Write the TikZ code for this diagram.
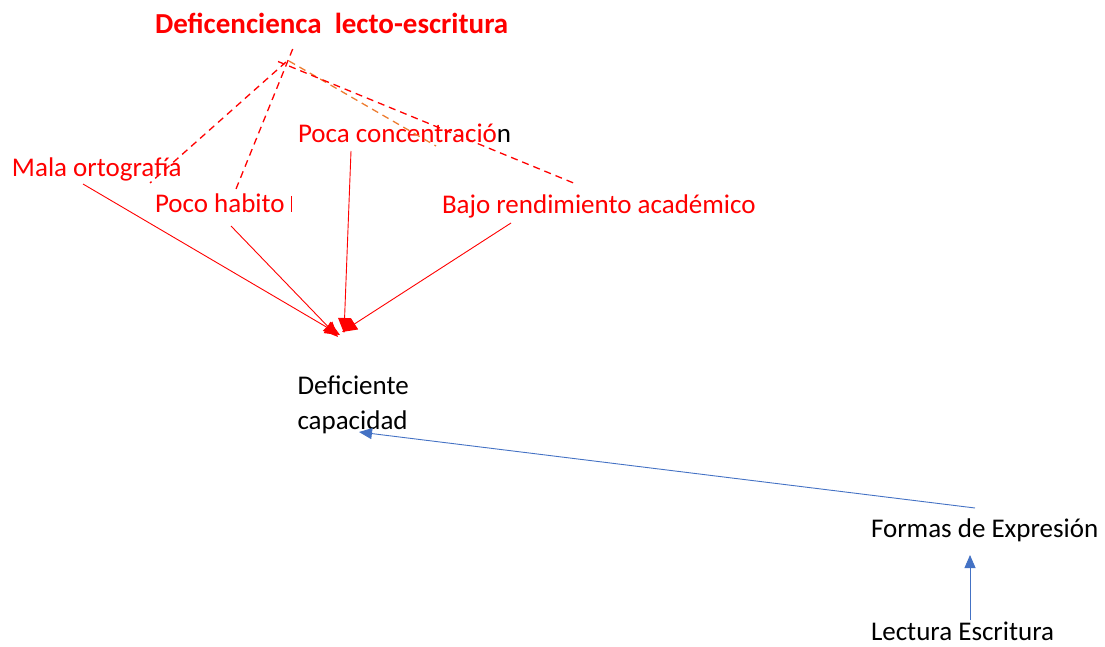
\documentclass[tikz,border=0pt]{standalone}
\usepackage{fontspec}
\setmainfont{Carlito}
\usetikzlibrary{arrows.meta}
\definecolor{wred}{HTML}{FF0000}
\definecolor{wblue}{HTML}{4472C4}
\definecolor{worange}{HTML}{ED7D31}
\tikzset{
  lbl/.style={anchor=base west,inner sep=0pt,outer sep=0pt,font=\fontsize{27}{33}\selectfont},
  redlbl/.style={lbl,text=wred},
  dash red/.style={draw=wred,line width=1.3pt,dash pattern=on 7pt off 5pt},
  dash orange/.style={draw=worange,line width=1.3pt,dash pattern=on 7pt off 5pt},
  redarrow/.style={draw=wred,line width=0.9pt,-{Triangle[length=15pt,width=13pt]}},
  bluearrow/.style={draw=wblue,line width=0.9pt,-{Triangle[length=13pt,width=11pt]}}
}
\begin{document}
\begin{tikzpicture}[x=1pt,y=-1pt]
\useasboundingbox (0,0) rectangle (1105,647);
% text
\node[redlbl,font=\fontsize{29}{33}\selectfont\bfseries] (title) at (155,33.5) {Deficencienca\ \ lecto-escritura};
\node[redlbl] (mala) at (12,177) {Mala ortografía};
\node[redlbl] (poco) at (155,212.5) {Poco habito};
\node[redlbl] (poca) at (298,143) {Poca concentració\textcolor{black}{n}};
\node[redlbl] (bajo) at (442,213.5) {Bajo rendimiento académico};
\node[lbl] (def1) at (297.5,394.5) {Deficiente};
\node[lbl] (def2) at (297.5,429) {capacidad};
\node[lbl] (formas) at (871,537) {Formas de Expresión};
\node[lbl] (lect) at (871,640) {Lectura Escritura};
% small bar after Poco habito
\coordinate (barT) at (291.5,196);
\coordinate (barB) at (291.5,212);
\draw[wred,line width=0.8pt] (barT) -- (barB);
% dashed lines
\coordinate (a1) at (292.7,49);
\coordinate (a1e) at (236,189);
\coordinate (a2) at (286,62);
\coordinate (a2e) at (150,183);
\coordinate (a3) at (278,61.5);
\coordinate (a3e) at (576,184);
\coordinate (a4) at (289,61);
\coordinate (a4e) at (436,146);
\draw[dash red] (a1) -- (a1e);
\draw[dash red] (a2) -- (a2e);
\draw[dash orange] (a4) -- (a4e);
\draw[dash red] (a3) -- (a3e);
% solid red arrows
\coordinate (m1) at (83,184);
\coordinate (p1) at (231,226);
\coordinate (c1) at (351,151);
\coordinate (b1) at (511,223);
\coordinate (t1) at (340,335);
\coordinate (t2) at (338,337);
\coordinate (t3) at (344,333);
\coordinate (t4) at (342,332);
\draw[redarrow] (m1) -- (t1);
\draw[redarrow] (p1) -- (t2);
\draw[redarrow] (c1) -- (t3);
\draw[redarrow] (b1) -- (t4);
% blue arrows
\coordinate (f1) at (975,508);
\coordinate (dtip) at (359,432);
\draw[bluearrow] (f1) -- (dtip);
\coordinate (l1) at (970,620);
\coordinate (ftip) at (970,555);
\draw[bluearrow] (l1) -- (ftip);
\end{tikzpicture}
\end{document}
